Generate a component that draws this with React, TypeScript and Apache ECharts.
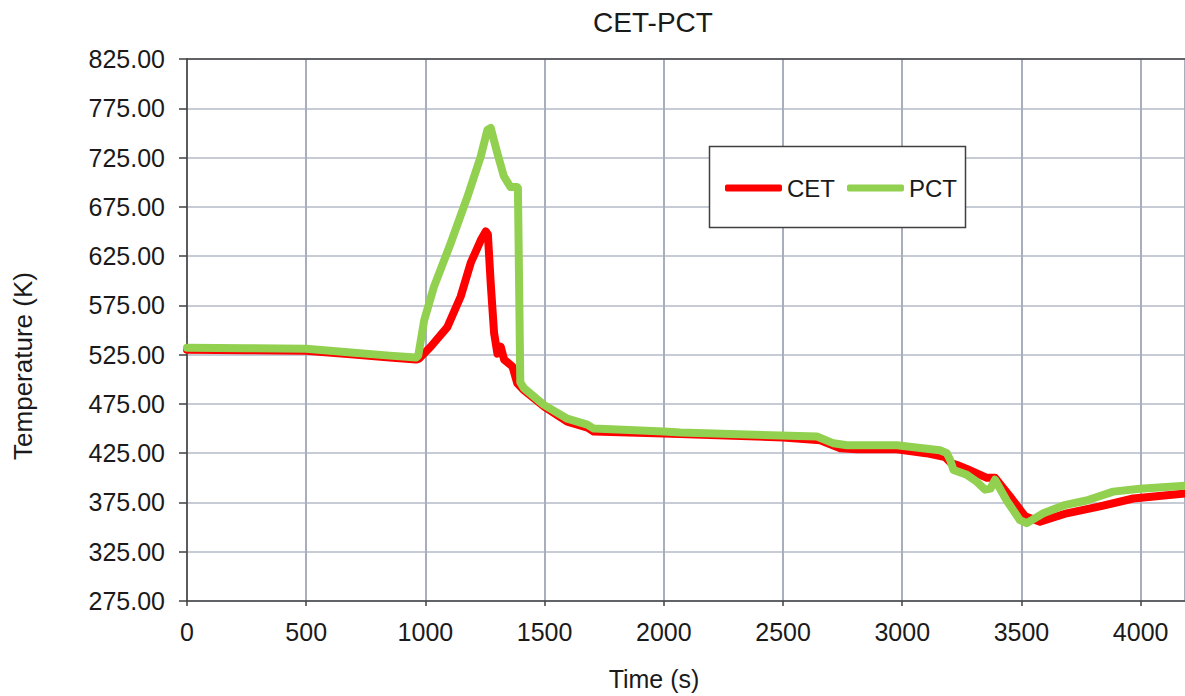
import React, { useEffect, useRef } from "react";
import * as echarts from "echarts";

const titleText = "CET-PCT";
const xName = "Time (s)";
const yName = "Temperature (K)";
const seriesNames = ["CET", "PCT"];

const cetTime = [0, 250, 500, 700, 850, 960, 973, 1022, 1092, 1148, 1190, 1232, 1253, 1262, 1274, 1288, 1302, 1316, 1330, 1365, 1385, 1413, 1500, 1595, 1680, 1706, 2000, 2500, 2656, 2740, 2810, 2977, 3100, 3180, 3205, 3230, 3271, 3355, 3389, 3452, 3515, 3578, 3690, 3829, 3969, 4186];
const cetTemp = [530, 529.5, 529, 525, 522, 520, 521, 533, 553, 584, 618, 641, 650, 647, 597, 547, 526, 533, 520, 513, 496, 489, 472, 457, 451, 447, 445, 441, 438, 430, 429, 429, 425, 421, 415, 413, 409, 400, 400, 381, 361, 355.5, 364, 371, 379, 384];

const pctTime = [0, 250, 500, 700, 850, 960, 970, 995, 1036, 1106, 1176, 1232, 1260, 1274, 1302, 1329, 1357, 1385, 1388, 1398, 1413, 1497, 1595, 1679, 1706, 2000, 2069, 2488, 2642, 2712, 2768, 2977, 3158, 3187, 3201, 3215, 3271, 3313, 3347, 3370, 3389, 3438, 3494, 3522, 3592, 3676, 3773, 3885, 3997, 4186];
const pctTemp = [532, 531.5, 531, 527, 524, 522, 524, 560, 594, 638, 685, 726, 753, 755, 729, 706, 695, 695, 694, 497, 491, 474, 460, 454, 450, 447, 446, 443, 442, 435, 433, 433, 428, 425, 418, 408, 403, 396, 388, 389, 398, 377, 357, 354, 364, 372, 377, 386, 389, 392];

const xMin = 0;
const xMax = 4186;
const xInterval = 500;
const yMin = 275;
const yMax = 825;
const yInterval = 50;

export default function App() {
  const ref = useRef<HTMLDivElement>(null);
  useEffect(() => {
    const chart = echarts.init(ref.current!, null, { renderer: "svg" });
    const font = '"Liberation Sans", Arial, sans-serif';
    const textColor = "#1a1a1a";
    const cetData = cetTime.map((t, i) => [t, cetTemp[i]]);
    const pctData = pctTime.map((t, i) => [t, pctTemp[i]]);
    chart.setOption({
      animation: false,
      backgroundColor: "#ffffff",
      grid: { left: 187, top: 59, right: 0, bottom: 95, containLabel: false },
      xAxis: [
        {
          type: "value",
          min: xMin,
          max: xMax,
          interval: xInterval,
          axisLine: { show: true, lineStyle: { color: "#404040", width: 1.5 } },
          axisTick: { show: true, inside: false, length: 5, lineStyle: { color: "#404040", width: 1.5 } },
          axisLabel: {
            show: true,
            margin: 18,
            fontSize: 25,
            fontFamily: font,
            color: textColor,
            showMaxLabel: false,
            formatter: (v: number) => (v % 500 === 0 ? String(v) : ""),
          },
          splitLine: { show: true, lineStyle: { color: "#a8aebb", width: 2 } },
        },
        {
          type: "value",
          position: "top",
          min: xMin,
          max: xMax,
          interval: xInterval,
          axisLine: { show: true, lineStyle: { color: "#404040", width: 1.5 } },
          axisTick: { show: false },
          axisLabel: { show: false },
          splitLine: { show: false },
        },
      ],
      yAxis: {
        type: "value",
        min: yMin,
        max: yMax,
        interval: yInterval,
        axisLine: { show: true, lineStyle: { color: "#404040", width: 1.5 } },
        axisTick: { show: true, inside: false, length: 8, lineStyle: { color: "#404040", width: 1.5 } },
        axisLabel: {
          margin: 22,
          fontSize: 25,
          fontFamily: font,
          color: textColor,
          formatter: (v: number) => v.toFixed(2),
        },
        splitLine: { show: true, lineStyle: { color: "#c6cbd5", width: 2 } },
      },
      legend: {
        data: seriesNames,
        left: 720,
        top: 171,
        z: 20,
        icon: "roundRect",
        itemWidth: 57,
        itemHeight: 7,
        itemGap: 12,
        textStyle: { fontSize: 24, fontFamily: font, color: textColor },
      },
      graphic: [
        {
          type: "rect",
          shape: { x: 709.5, y: 146.5, width: 256, height: 81 },
          style: { fill: "#ffffff", stroke: "#404040", lineWidth: 1.5 },
          z: 5,
        },
        {
          type: "text",
          x: 653,
          y: 22,
          style: { text: titleText, fontSize: 28, fontFamily: font, fill: textColor, textAlign: "center", textVerticalAlign: "middle" },
        },
        {
          type: "text",
          x: 654,
          y: 679,
          style: { text: xName, fontSize: 25, fontFamily: font, fill: textColor, textAlign: "center", textVerticalAlign: "middle" },
        },
        {
          type: "text",
          x: 23,
          y: 366,
          rotation: Math.PI / 2,
          style: { text: yName, fontSize: 26, fontFamily: font, fill: textColor, textAlign: "center", textVerticalAlign: "middle" },
        },
      ],
      series: [
        {
          name: seriesNames[0],
          type: "line",
          data: cetData,
          showSymbol: false,
          symbol: "none",
          lineStyle: { color: "#ff0000", width: 8, cap: "round", join: "round" },
          itemStyle: { color: "#ff0000" },
          z: 3,
        },
        {
          name: seriesNames[1],
          type: "line",
          data: pctData,
          showSymbol: false,
          symbol: "none",
          lineStyle: { color: "#92d050", width: 8, cap: "round", join: "round" },
          itemStyle: { color: "#92d050" },
          z: 4,
        },
      ],
    });
    return () => chart.dispose();
  }, []);
  return (
    <div
      ref={ref}
      style={{ position: "fixed", left: 0, top: 0, width: 1185, height: 696, background: "#fff" }}
    />
  );
}
